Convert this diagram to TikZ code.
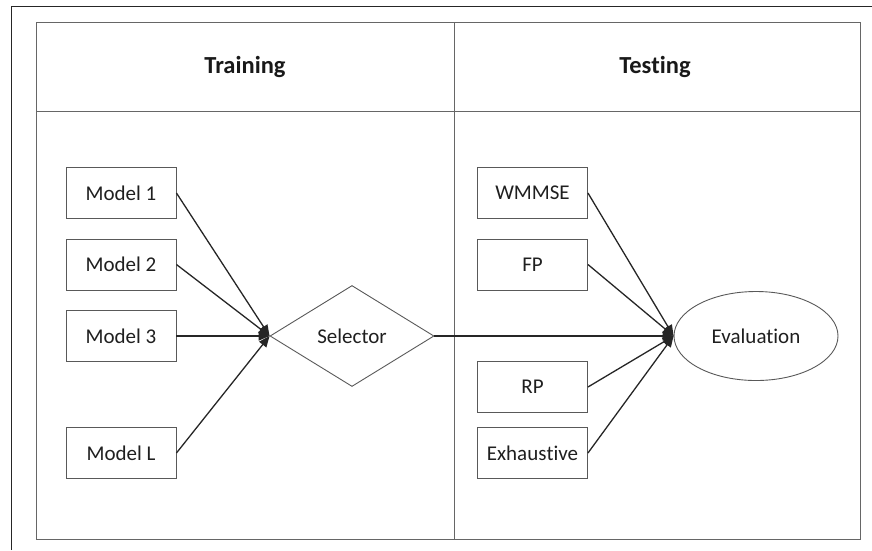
\documentclass[tikz,border=0pt]{standalone}
\usepackage{fontspec}
\setmainfont[RawFeature={-liga;-clig;-calt;-dlig}]{Carlito}
\usetikzlibrary{shapes.geometric,arrows.meta}

\tikzset{
  frameline/.style={draw=black!85, line width=0.9pt},
  gridline/.style={draw=black!60, line width=1pt},
  bodyfont/.style={font=\fontsize{21}{25}\selectfont, text=black!88},
  modelbox/.style={bodyfont, draw=black!65, line width=0.9pt, rectangle, minimum width=110pt,
    minimum height=51pt, inner sep=0pt},
  header/.style={font=\fontsize{24.5}{28}\selectfont\bfseries, text=black!90},
  link/.style={draw=black!85, line width=1.3pt,
    -{Triangle[length=11pt,width=9pt]}, shorten >=0pt}
}

\begin{document}
\begin{tikzpicture}[x=1pt,y=-1pt]
  \useasboundingbox (0,0) rectangle (872,550);

  % outer frame (left and top edges)
  \draw[frameline] (11,550) -- (11,6) -- (872,6);

  % two-column table
  \draw[gridline] (36,22) rectangle (860,539);
  \draw[gridline] (36,111) -- (860,111);
  \draw[gridline] (454,22) -- (454,539);

  \node[header] (htrain) at (245,67) {Training};
  \node[header] (htest) at (655,67) {Tes\kern0pt t\kern0pt ing};

  % training side
  \node[modelbox] (m1) at (121,193) {Model 1};
  \node[modelbox] (m2) at (121,264.5) {Model 2};
  \node[modelbox] (m3) at (121,336) {Model 3};
  \node[modelbox] (mL) at (121,453) {Model L};

  \node[bodyfont, draw=black!65, line width=0.9pt, diamond, minimum width=164pt,
    minimum height=101pt, inner sep=0pt] (sel) at (352,336) {Selector};

  % testing side
  \node[modelbox] (wm) at (532.5,193) {WMMSE};
  \node[modelbox] (fp) at (532.5,264.5) {FP};
  \node[modelbox] (rp) at (532.5,387) {RP};
  \node[modelbox] (ex) at (532.5,453) {Exhaus\kern0pt t\kern0pt ive};

  \node[bodyfont, draw=black!65, line width=0.9pt, ellipse, minimum width=164pt,
    minimum height=89pt, inner sep=0pt] (ev) at (756,336) {Evaluation};

  % connectors
  \foreach \m in {m1,m2,m3,mL}
    \draw[link] (\m.east) -- (sel.west);
  \foreach \m in {wm,fp,rp,ex}
    \draw[link] (\m.east) -- (ev.west);
  \draw[link] (sel.east) -- (ev.west);
\end{tikzpicture}
\end{document}
